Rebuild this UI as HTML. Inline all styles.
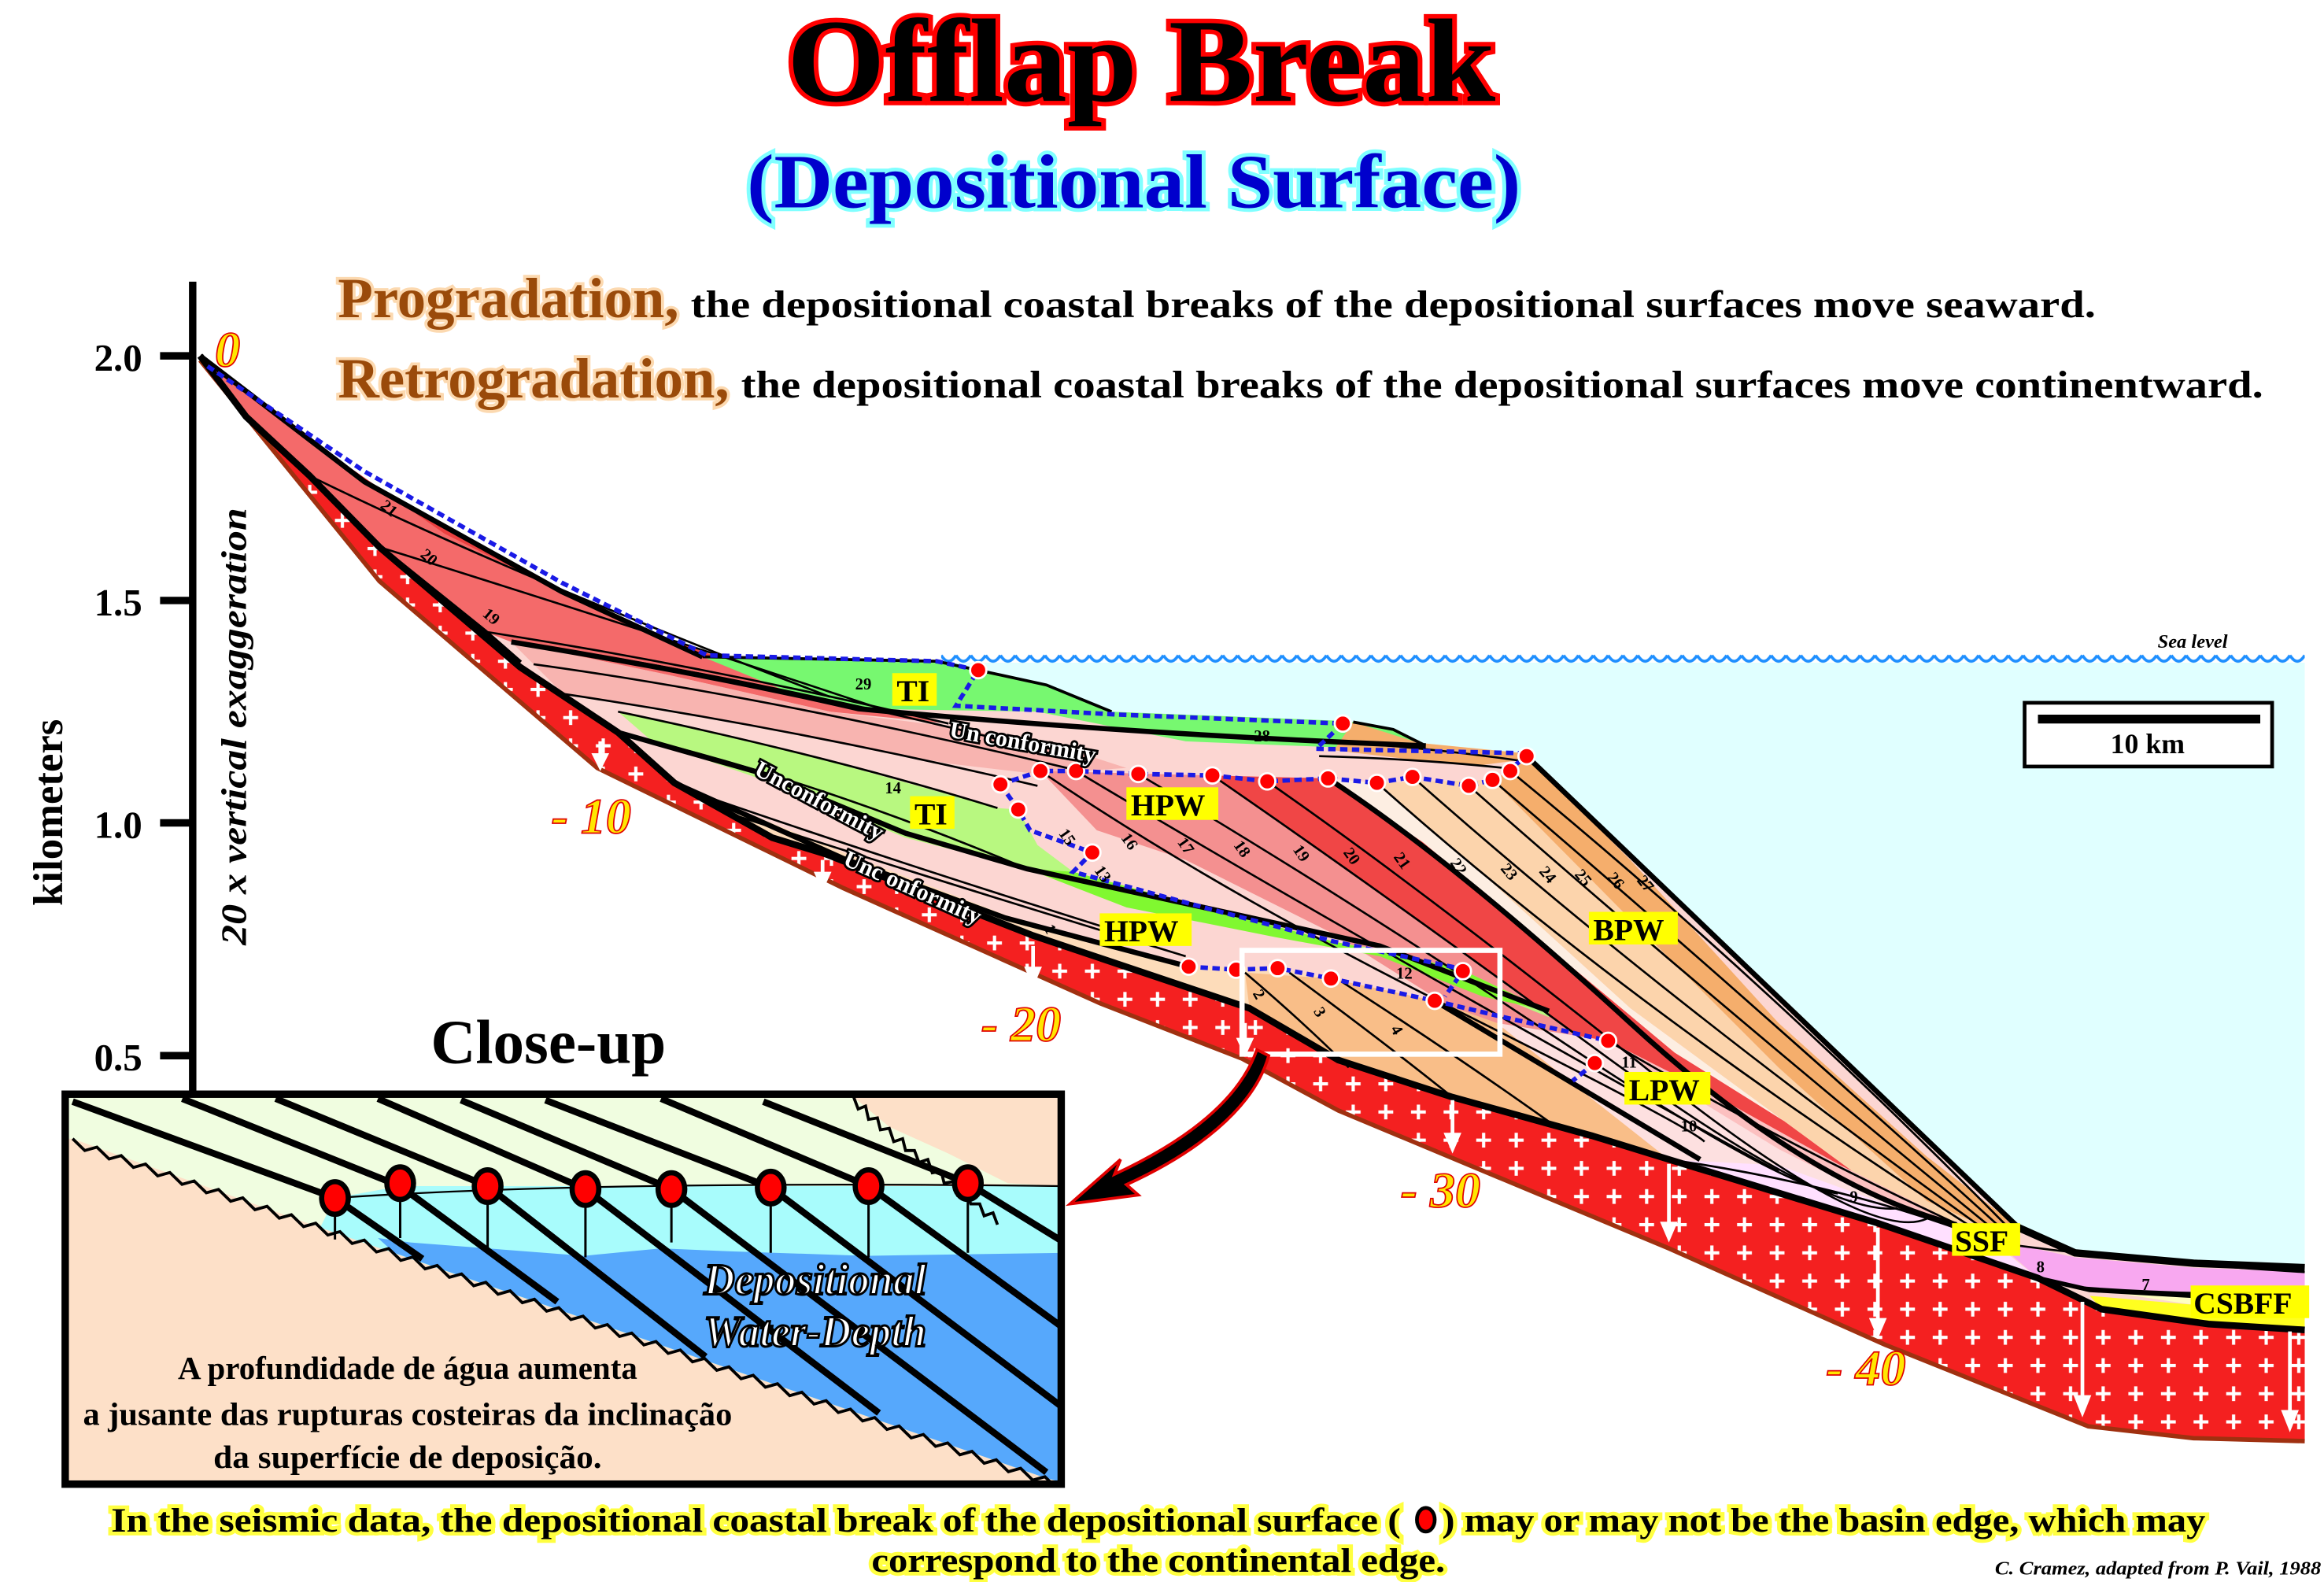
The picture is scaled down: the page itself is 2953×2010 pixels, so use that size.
<!DOCTYPE html>
<html><head><meta charset="utf-8"><style>
html,body{margin:0;padding:0;background:#fff;}
svg{display:block;}
text{font-family:"Liberation Serif",serif;font-weight:bold;}
</style></head><body>
<svg width="2953" height="2010" viewBox="0 0 1568 1067" preserveAspectRatio="none" xmlns="http://www.w3.org/2000/svg">
<defs>
<pattern id="cross" width="22" height="19" patternUnits="userSpaceOnUse">
<path d="M11,4 V14 M6,9 H16" stroke="#fff" stroke-width="2.2"/>
</pattern>
<pattern id="wave" x="635" y="439" width="10" height="12" patternUnits="userSpaceOnUse">
<path d="M0,3 Q5,11 10,3" fill="none" stroke="#1e8fff" stroke-width="2"/>
</pattern>
<clipPath id="inset"><rect x="45" y="740" width="670" height="260"/></clipPath>
</defs>

<!-- Title -->
<text x="770" y="68" text-anchor="middle" font-size="80" fill="#000" stroke="#ff0000" stroke-width="6" paint-order="stroke" textLength="478" lengthAdjust="spacingAndGlyphs">Offlap Break</text>
<text x="765" y="140" text-anchor="middle" font-size="52" fill="#0000cc" stroke="#80ffff" stroke-width="5" paint-order="stroke" textLength="522" lengthAdjust="spacingAndGlyphs">(Depositional Surface)</text>

<text x="228" y="214" font-size="38" fill="#9a4a0a" stroke="#fcd9b0" stroke-width="4" paint-order="stroke" textLength="230" lengthAdjust="spacingAndGlyphs">Progradation,</text>
<text x="466" y="214" font-size="26" fill="#000" textLength="948" lengthAdjust="spacingAndGlyphs">the depositional coastal breaks of the depositional surfaces move seaward.</text>
<text x="228" y="268" font-size="38" fill="#9a4a0a" stroke="#fcd9b0" stroke-width="4" paint-order="stroke" textLength="264" lengthAdjust="spacingAndGlyphs">Retrogradation,</text>
<text x="500" y="268" font-size="26" fill="#000" textLength="1027" lengthAdjust="spacingAndGlyphs">the depositional coastal breaks of the depositional surfaces move continentward.</text>

<!-- Axis -->
<line x1="130" y1="190" x2="130" y2="740" stroke="#000" stroke-width="5"/>
<g stroke="#000" stroke-width="5">
<line x1="108" y1="240" x2="130" y2="240"/><line x1="108" y1="405" x2="130" y2="405"/>
<line x1="108" y1="555" x2="130" y2="555"/><line x1="108" y1="712" x2="130" y2="712"/>
</g>
<g font-size="26" text-anchor="end" fill="#000">
<text x="96" y="250">2.0</text><text x="96" y="415">1.5</text><text x="96" y="565">1.0</text><text x="96" y="722">0.5</text>
</g>
<text transform="translate(42,548) rotate(-90)" text-anchor="middle" font-size="28" fill="#000">kilometers</text>
<text transform="translate(166,490) rotate(-90)" text-anchor="middle" font-size="24" font-style="italic" fill="#000" textLength="295" lengthAdjust="spacingAndGlyphs">20 x vertical exaggeration</text>

<!-- Sea -->
<polygon points="635,447 1555,447 1555,855 1480,852 1400,845 1360,828 1028,508 957,501 913,487 750,480 706,462 660,452" fill="#e0ffff"/>
<rect x="635" y="439" width="920" height="12" fill="url(#wave)"/>
<text x="1503" y="437" text-anchor="end" font-size="13" font-style="italic" fill="#000">Sea level</text>
<rect x="1366" y="474" width="167" height="43" fill="#fff" stroke="#000" stroke-width="2.5"/>
<line x1="1375" y1="485" x2="1525" y2="485" stroke="#000" stroke-width="6"/>
<text x="1449" y="508" text-anchor="middle" font-size="19" fill="#000">10 km</text>

<!-- Basement -->
<polygon points="135,240 166,281 209,321 256,369 351,450 417,494 455,528 521,565 557,576 697,631 843,680 903,715 980,740 1074,766 1126,782 1267,825 1375,862 1418,883 1490,893 1555,897 1555,972 1480,970 1409,962 1272,907 1126,842 903,749 838,714 743,677 569,599 403,518 256,392 135,243" fill="#f42020"/>
<polygon points="135,240 166,281 209,321 256,369 351,450 417,494 455,528 521,565 557,576 697,631 843,680 903,715 980,740 1074,766 1126,782 1267,825 1375,862 1418,883 1490,893 1555,897 1555,972 1480,970 1409,962 1272,907 1126,842 903,749 838,714 743,677 569,599 403,518 256,392 135,243" fill="url(#cross)"/>
<polyline points="135,243 256,392 403,518 569,599 743,677 838,714 903,749 1126,842 1272,907 1409,962 1480,970 1555,972" fill="none" stroke="#a03010" stroke-width="3"/>

<!-- Sediment base -->
<polygon points="135,240 246,325 379,399 474,443 632,446 660,452 706,462 750,480 913,487 957,501 1028,508 1360,828 1400,845 1480,852 1555,855 1555,897 1490,893 1418,883 1375,862 1267,825 1126,782 1074,766 980,740 903,715 843,680 697,631 557,576 521,565 455,528 417,494 351,450 256,369 209,321 166,281" fill="#fcd6d2"/>

<polygon points="135,240 246,325 379,399 474,443 560,470 640,488 560,480 450,455 345,433 327,426 256,369 209,321 166,281" fill="#f46a6a"/>
<polygon points="135,240 246,325 379,399 474,443 560,470 420,420 300,360 200,290" fill="#ec4040"/>
<polygon points="345,433 450,455 560,480 640,490 720,505 760,518 700,522 640,515 560,500 450,478 380,468" fill="#f8b4b0"/>
<polygon points="474,443 632,446 660,452 706,462 750,480 700,480 579,478 540,470" fill="#77f870"/>
<polygon points="700,480 750,480 900,486 913,487 940,492 960,502 900,504 800,500" fill="#77f870"/>
<polygon points="818,523 896,525 960,568 1040,635 1130,710 1242,780 1320,826 1260,812 1180,770 1080,710 990,645 900,580" fill="#f04646"/>
<polygon points="702,520 818,523 900,580 990,645 1080,710 1180,770 1260,812 1200,800 1130,770 1050,720 980,680 900,630 800,580 740,560" fill="#f49090"/>
<polygon points="896,525 929,528 990,580 1100,680 1250,790 1330,830 1320,826 1242,780 1130,710 1040,635 960,568" fill="#fdeee2"/>
<polygon points="929,528 1007,526 1100,620 1200,720 1300,810 1345,830 1330,830 1250,790 1100,680 990,580" fill="#fcd4ac"/>
<polygon points="1007,526 1019,520 1030,510 1100,580 1200,690 1300,780 1362,828 1345,830 1300,810 1200,720 1100,620" fill="#f5ae6c"/>
<polygon points="913,487 957,501 1028,508 1030,512 1000,516 950,512 900,506" fill="#f5ae6c"/>
<polygon points="417,480 540,508 673,545 687,546 700,570 724,588 812,612 900,635 984,653 1045,682 1045,686 931,640 860,630 760,610 693,586 611,565 512,525 440,500" fill="#b8f880"/>
<polygon points="693,586 724,588 812,612 900,635 984,653 1045,682 1000,672 931,645 860,632 760,612" fill="#80f830"/>
<polygon points="455,528 569,575 678,617 750,640 802,652 862,653 898,660 968,675 1010,690 1060,730 1126,782 1074,766 980,740 903,715 843,680 697,631 557,576 521,565" fill="#fddcba"/>
<polygon points="840,656 898,660 968,675 1010,690 1060,730 1126,782 1074,766 980,740 903,715 843,680" fill="#f9be88"/>
<polygon points="1010,690 1085,702 1150,740 1240,790 1330,830 1270,820 1200,795 1126,782 1060,730" fill="#fde0e0"/>
<polygon points="1085,702 1150,735 1240,785 1330,830 1300,825 1200,775 1110,720" fill="#fcc0c0"/>
<polygon points="1126,782 1200,786 1300,822 1345,838 1375,862 1267,825" fill="#ffe0ff"/>
<polygon points="1345,836 1400,848 1480,855 1555,858 1555,870 1440,873 1400,868 1375,862" fill="#f8a8f0"/>
<polygon points="1400,868 1440,873 1555,872 1555,880 1480,880" fill="#ffffc0"/>
<polygon points="1410,874 1480,880 1555,880 1555,897 1490,893 1418,883" fill="#ffff20"/>

<g fill="none" stroke="#000" stroke-width="1.4">
<path d="M209,321 Q350,390 560,470"/>
<path d="M256,369 Q420,420 600,480"/>
<path d="M327,426 Q480,450 640,488"/>
<path d="M345,433 Q500,455 700,505"/>
<path d="M360,448 Q520,470 720,518"/>
<path d="M380,468 Q540,492 700,530"/>
<path d="M417,480 Q560,510 673,545"/>
<path d="M440,500 Q560,530 693,586"/>
<path d="M470,535 Q600,580 760,630"/>
<path d="M490,548 Q620,590 800,645"/>
<path d="M702,520 Q820,600 980,680 T1150,770"/>
<path d="M726,520 Q860,600 1020,690 T1200,790"/>
<path d="M768,522 Q900,600 1050,700 T1240,805"/>
<path d="M818,523 Q930,600 1080,710 T1280,815"/>
<path d="M855,527 Q960,600 1110,720 T1300,822"/>
<path d="M929,528 Q1100,680 1334,830"/>
<path d="M953,524 Q1120,672 1340,830"/>
<path d="M991,530 Q1150,670 1346,830"/>
<path d="M1007,526 Q1170,665 1352,830"/>
<path d="M1019,520 Q1190,660 1357,830"/>
<path d="M900,500 Q970,505 1025,513"/>
<path d="M890,510 Q960,512 1015,518"/>
<path d="M840,656 Q880,690 910,720"/>
<path d="M870,656 Q930,700 980,740"/>
<path d="M905,662 Q980,710 1050,760"/>
<path d="M1085,702 Q1200,770 1330,830"/>
<path d="M1126,782 Q1250,800 1345,838"/>
<path d="M1345,838 Q1450,852 1555,858"/>
<path d="M1400,868 Q1480,874 1555,872"/>
</g>
<g fill="none" stroke="#000" stroke-width="3.5">
<polyline points="135,240 246,325 379,399 474,443"/>
<polyline points="166,281 209,321 256,369 327,426 351,447"/>
<path d="M345,433 Q480,455 579,478 Q760,495 962,503"/>
<polyline points="417,494 512,521 611,562 693,586 931,638 1045,682"/>
<polyline points="455,528 569,579 678,619 802,652"/>
<path d="M896,525 Q980,580 1100,690 T1320,826"/>
<path d="M968,675 Q1060,730 1147,782"/>
<path d="M1028,508 L1362,828"/>
<polyline points="135,240 166,281 209,321 256,369 351,450 417,494 455,528 521,565 557,576 697,631 843,680 903,715 980,740 1074,766 1126,782 1267,825 1375,862 1418,883 1490,893 1555,897" stroke-width="4.5"/>
<polyline points="1362,828 1400,845 1480,852 1555,855" stroke-width="5"/>
<polyline points="1375,862 1410,870 1480,874 1555,876" stroke-width="3"/>
<polyline points="474,443 632,446 660,452 706,462 750,480" stroke-width="2"/>
<polyline points="913,487 940,492 960,502" stroke-width="2"/>
</g>

<g fill="none" stroke="#1a1ae6" stroke-width="3" stroke-dasharray="5,3">
<polyline points="140,247 246,318 379,393 477,442 632,446 660,452 645,476 755,482 906,488 888,505 1028,508"/>
<polyline points="675,529 702,520 726,520 768,522 818,523 855,527 896,525 929,528 953,524 991,530 1007,526 1017,520 1030,510"/>
<polyline points="675,529 687,546 695,560 737,575 724,588 812,612 900,635 984,653 987,655 975,672"/>
<polyline points="802,652 834,654 862,653 898,660 968,675 1010,685 1085,702"/>
<polyline points="1076,717 1061,729"/>
</g>
<g fill="#ff0000" stroke="#fff" stroke-width="1.5">
<circle cx="660" cy="452" r="5.5"/><circle cx="906" cy="488" r="5.5"/><circle cx="1030" cy="510" r="5.5"/>
<circle cx="675" cy="529" r="5.5"/><circle cx="702" cy="520" r="5.5"/><circle cx="726" cy="520" r="5.5"/><circle cx="768" cy="522" r="5.5"/><circle cx="818" cy="523" r="5.5"/><circle cx="855" cy="527" r="5.5"/><circle cx="896" cy="525" r="5.5"/><circle cx="929" cy="528" r="5.5"/><circle cx="953" cy="524" r="5.5"/><circle cx="991" cy="530" r="5.5"/><circle cx="1007" cy="526" r="5.5"/><circle cx="1019" cy="520" r="5.5"/>
<circle cx="687" cy="546" r="5.5"/><circle cx="737" cy="575" r="5.5"/>
<circle cx="802" cy="652" r="5.5"/><circle cx="834" cy="654" r="5.5"/><circle cx="862" cy="653" r="5.5"/><circle cx="898" cy="660" r="5.5"/><circle cx="968" cy="675" r="5.5"/><circle cx="987" cy="655" r="5.5"/>
<circle cx="1085" cy="702" r="5.5"/><circle cx="1076" cy="717" r="5.5"/>
</g>

<g stroke="#fff" stroke-width="2.5" fill="#fff">
<line x1="405" y1="500" x2="405" y2="512"/><polygon points="399,508 411,508 405,520" stroke="none"/>
<line x1="555" y1="580" x2="555" y2="592"/><polygon points="549,588 561,588 555,601" stroke="none"/>
<line x1="697" y1="638" x2="697" y2="656"/><polygon points="691,652 703,652 697,666" stroke="none"/>
<line x1="840" y1="690" x2="840" y2="704"/><polygon points="834,700 846,700 840,713" stroke="none"/>
<line x1="980" y1="742" x2="980" y2="768"/><polygon points="974,764 986,764 980,778" stroke="none"/>
<line x1="1126" y1="785" x2="1126" y2="828"/><polygon points="1120,824 1132,824 1126,838" stroke="none"/>
<line x1="1267" y1="828" x2="1267" y2="893"/><polygon points="1261,889 1273,889 1267,903" stroke="none"/>
<line x1="1405" y1="878" x2="1405" y2="945"/><polygon points="1399,941 1411,941 1405,956" stroke="none"/>
<line x1="1545" y1="898" x2="1545" y2="955"/><polygon points="1539,951 1551,951 1545,966" stroke="none"/>
</g>
<g font-size="34" font-style="italic" fill="#ffe600" stroke="#e00000" stroke-width="0.9">
<text x="145" y="247">0</text>
<text x="372" y="562">- 10</text>
<text x="662" y="702">- 20</text>
<text x="945" y="814">- 30</text>
<text x="1232" y="934">- 40</text>
</g>

<rect x="838" y="641" width="174" height="70" fill="none" stroke="#fff" stroke-width="3.5"/>

<g font-size="11" fill="#000" font-weight="normal">
<text transform="translate(256,342) rotate(40)">21</text>
<text transform="translate(283,375) rotate(40)">20</text>
<text transform="translate(325,415) rotate(40)">19</text>
<text x="577" y="465">29</text><text x="846" y="500">28</text><text x="597" y="535">14</text>
<text transform="translate(714,562) rotate(55)">15</text><text transform="translate(756,565) rotate(55)">16</text>
<text transform="translate(794,568) rotate(55)">17</text><text transform="translate(832,570) rotate(55)">18</text>
<text transform="translate(872,573) rotate(55)">19</text><text transform="translate(906,575) rotate(55)">20</text>
<text transform="translate(940,578) rotate(55)">21</text><text transform="translate(978,582) rotate(55)">22</text>
<text transform="translate(1012,586) rotate(50)">23</text><text transform="translate(1038,588) rotate(50)">24</text>
<text transform="translate(1062,590) rotate(50)">25</text><text transform="translate(1084,592) rotate(50)">26</text>
<text transform="translate(1104,594) rotate(50)">27</text>
<text transform="translate(738,587) rotate(55)">13</text>
<text x="942" y="660">12</text>
<text transform="translate(704,626) rotate(60)">1</text>
<text transform="translate(845,670) rotate(60)">2</text>
<text transform="translate(886,682) rotate(60)">3</text>
<text transform="translate(938,694) rotate(60)">4</text>
<text x="1094" y="720">11</text><text x="1134" y="763">10</text><text x="1248" y="811">9</text><text x="1374" y="858">8</text><text x="1445" y="870">7</text>
</g>
<g font-size="16" fill="#fff" stroke="#000" stroke-width="3" paint-order="stroke">
<text transform="translate(640,497) rotate(10)">Un conformity</text>
<text transform="translate(508,522) rotate(28)">Unconformity</text>
<text transform="translate(568,583) rotate(24)">Unc onformity</text>
</g>
<g font-size="21" fill="#000">
<rect x="602" y="454" width="30" height="22" fill="#ffff00"/><text x="605" y="473">TI</text>
<rect x="614" y="537" width="30" height="22" fill="#ffff00"/><text x="617" y="556">TI</text>
<rect x="760" y="531" width="62" height="22" fill="#ffff00"/><text x="763" y="550">HPW</text>
<rect x="742" y="616" width="62" height="22" fill="#ffff00"/><text x="745" y="635">HPW</text>
<rect x="1072" y="615" width="60" height="22" fill="#ffff00"/><text x="1075" y="634">BPW</text>
<rect x="1096" y="723" width="58" height="22" fill="#ffff00"/><text x="1099" y="742">LPW</text>
<rect x="1317" y="825" width="46" height="22" fill="#ffff00"/><text x="1319" y="844">SSF</text>
<rect x="1478" y="867" width="80" height="22" fill="#ffff00"/><text x="1480" y="886">CSBFF</text>
</g>

<!-- Close-up -->
<text x="370" y="717" text-anchor="middle" font-size="42" fill="#000">Close-up</text>
<path d="M848,708 C835,745 795,772 752,792 L756,782 L722,812 L768,806 L760,799 C806,778 846,748 856,712 Z" fill="#000" stroke="#e00000" stroke-width="2"/>

<rect x="42" y="737" width="676" height="266" fill="#fde0c8"/>
<g clip-path="url(#inset)">
<!-- green (land side above water line, above seabed) -->
<polygon points="45,740 576,740 600,760 640,778 680,798 718,800 653,798 586,800 520,801 453,802 395,802 329,800 270,800 226,808 216,828 49,768 45,768" fill="#f0fde0"/>
<!-- cyan water -->
<polygon points="226,808 270,800 718,800 718,1000 706,997 216,828" fill="#a8fcfc"/>
<!-- deep blue -->
<polygon points="255,835 277,838 394,847 446,842 493,844 584,847 718,845 718,1000 706,997 266,845" fill="#56a8fc"/>
<!-- seabed -->
<path d="M49,768 l8.2,8 l8.2,-2.3 l8.2,8 l8.2,-2.3 l8.2,8 l8.2,-2.3 l8.2,8 l8.2,-2.3 l8.2,8 l8.2,-2.3 l8.2,8 l8.2,-2.3 l8.2,8 l8.2,-2.3 l8.2,8 l8.2,-2.3 l8.2,8 l8.2,-2.3 l8.2,8 l8.2,-2.3 l8.2,8 l8.2,-2.3 l8.2,8 l8.2,-2.3 l8.2,8 l8.2,-2.3 l8.2,8 l8.2,-2.3 l8.2,8 l8.2,-2.3 l8.2,8 l8.2,-2.3 l8.2,8 l8.2,-2.3 l8.2,8 l8.2,-2.3 l8.2,8 l8.2,-2.3 l8.2,8 l8.2,-2.3 l8.2,8 l8.2,-2.3 l8.2,8 l8.2,-2.3 l8.2,8 l8.2,-2.3 l8.2,8 l8.2,-2.3 l8.2,8 l8.2,-2.3 l8.2,8 l8.2,-2.3 l8.2,8 l8.2,-2.3 l8.2,8 l8.2,-2.3 l8.2,8 l8.2,-2.3 l8.2,8 l8.2,-2.3 l8.2,8 l8.2,-2.3 l8.2,8 l8.2,-2.3 l8.2,8 l8.2,-2.3 l8.2,8 l8.2,-2.3 l8.2,8 l8.2,-2.3 l8.2,8 l8.2,-2.3 l8.2,8 l8.2,-2.3 l8.2,8 l8.2,-2.3 l8.2,8 l8.2,-2.3 l8.2,8 l8.2,-2.3 l8.2,8 l8.2,-2.3 l8.2,8 l8.2,-2.3 l8.2,8 l8.2,-2.3 l8.2,8 l8.2,-2.3" fill="none" stroke="#000" stroke-width="2"/>
<!-- upper-right peach -->
<polygon points="576,740 718,740 718,800 680,798 640,778 600,760" fill="#fde0c8"/>
<path d="M576,740 l3,8 l5,-2 l2,9 l6,-1 l2,8 l6,-1 l3,9 l6,-2 l2,8 l6,0 l3,8 l6,-2 l3,9 l6,-1 l2,8 l6,-1 l3,9 l6,-2 l3,8 l6,0 l3,8 l6,-2 l3,8" fill="none" stroke="#000" stroke-width="2"/>
<path d="M226,808 Q400,796 718,800" fill="none" stroke="#000" stroke-width="1.2"/>
<g stroke="#000" stroke-width="4.5" fill="none">
<path d="M49,743 L226,808 L285,849"/>
<path d="M123,741 L270,800 L376,878"/>
<path d="M186,741 L329,800 L476,915"/>
<path d="M255,741 L395,802 L593,953"/>
<path d="M311,742 L453,802 L706,993"/>
<path d="M368,742 L520,801 L718,950"/>
<path d="M446,741 L586,800 L718,896"/>
<path d="M515,743 L653,798 L718,838"/>
</g>
<g stroke="#000" stroke-width="1.6">
<line x1="226" y1="808" x2="226" y2="836"/><line x1="270" y1="800" x2="270" y2="835"/><line x1="329" y1="800" x2="329" y2="842"/><line x1="395" y1="802" x2="395" y2="848"/><line x1="453" y1="802" x2="453" y2="838"/><line x1="520" y1="801" x2="520" y2="845"/><line x1="586" y1="800" x2="586" y2="848"/><line x1="653" y1="798" x2="653" y2="845"/>
</g>
<g fill="#ff0000" stroke="#000" stroke-width="3.5">
<ellipse cx="226" cy="808" rx="9" ry="11"/><ellipse cx="270" cy="798" rx="9" ry="11"/><ellipse cx="329" cy="800" rx="9" ry="11"/><ellipse cx="395" cy="802" rx="9" ry="11"/><ellipse cx="453" cy="802" rx="9" ry="11"/><ellipse cx="520" cy="801" rx="9" ry="11"/><ellipse cx="586" cy="800" rx="9" ry="11"/><ellipse cx="653" cy="798" rx="9" ry="11"/>
</g>
<g font-size="30" font-style="italic" fill="#fff" stroke="#000" stroke-width="1.6" text-anchor="middle">
<text x="550" y="873" textLength="150" lengthAdjust="spacingAndGlyphs">Depositional</text>
<text x="550" y="908" textLength="150" lengthAdjust="spacingAndGlyphs">Water-Depth</text>
</g>
<g font-size="22" fill="#000" text-anchor="middle">
<text x="275" y="930" textLength="310" lengthAdjust="spacingAndGlyphs">A  profundidade de água aumenta</text>
<text x="275" y="961" textLength="438" lengthAdjust="spacingAndGlyphs">a jusante das rupturas costeiras da inclinação</text>
<text x="275" y="990" textLength="262" lengthAdjust="spacingAndGlyphs">da superfície de deposição.</text>
</g>
</g>
<rect x="44" y="738" width="672" height="263" fill="none" stroke="#000" stroke-width="5"/>

<g font-size="23" fill="#000" stroke="#ffff40" stroke-width="5" paint-order="stroke">
<text x="75" y="1033" textLength="870" lengthAdjust="spacingAndGlyphs">In the seismic data, the depositional coastal break  of the depositional surface (</text>
<text x="973" y="1033" textLength="515" lengthAdjust="spacingAndGlyphs">) may or may not be the basin edge, which may</text>
<text x="588" y="1060" textLength="387" lengthAdjust="spacingAndGlyphs">correspond to the continental edge.</text>
</g>
<ellipse cx="962" cy="1025" rx="6" ry="8" fill="#ff0000" stroke="#000" stroke-width="2.5"/>
<text x="1566" y="1062" text-anchor="end" font-size="13" font-style="italic" fill="#000" textLength="220" lengthAdjust="spacingAndGlyphs">C. Cramez, adapted from P. Vail, 1988</text>
</svg>
</body></html>
